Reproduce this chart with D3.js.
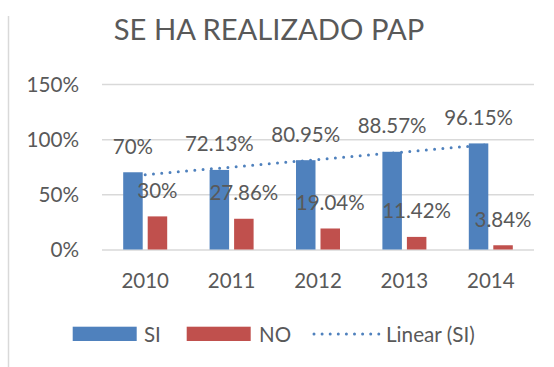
<!DOCTYPE html>
<html>
<head>
<meta charset="utf-8">
<script src="https://cdn.jsdelivr.net/npm/d3@7"></script>
<style>
  html, body { margin: 0; padding: 0; background: #fff; }
  svg text { font-family: Lato, "Open Sans", sans-serif; fill: #595959; }
</style>
</head>
<body>
<svg id="chart" width="554" height="367"></svg>
<script>
// Share of cases where a PAP was performed, by year
const years = ["2010", "2011", "2012", "2013", "2014"];
const siValues = [70, 72.13, 80.95, 88.57, 96.15];
const noValues = [30, 27.86, 19.04, 11.42, 3.84];
const yTicks = [0, 50, 100, 150];
const seriesNames = ["SI", "NO", "Linear (SI)"];
const chartTitle = "SE HA REALIZADO PAP";

const BLUE = "#4F81BD", RED = "#C0504D", GRID = "#d9d9d9";

const svg = d3.select("#chart");

// Chart frame edge on the left
svg.append("line")
  .attr("x1", 8.5).attr("x2", 8.5).attr("y1", 16).attr("y2", 367)
  .attr("stroke", GRID).attr("stroke-width", 1.5);

const plot = { left: 102, right: 534, top: 84, bottom: 249.5 };

const x = d3.scaleBand().domain(years).range([plot.left, plot.right]).paddingInner(0).paddingOuter(0);
const y = d3.scaleLinear().domain([0, 150]).range([plot.bottom, plot.top]);

const barW = 19.5, barGap = 5;
const xSub = d3.scaleOrdinal().domain(["SI", "NO"]).range([-barGap / 2 - barW, barGap / 2]);
const center = d => x(d) + x.bandwidth() / 2;

// Title
svg.append("text")
  .attr("x", 269).attr("y", 39.5)
  .attr("text-anchor", "middle")
  .style("font-size", "29.2px")
  .text(chartTitle);

// Gridlines + y-axis labels
const yAxis = d3.axisLeft(y).tickValues(yTicks).tickSize(-(plot.right - plot.left))
  .tickFormat(d => d + "%").tickPadding(23);
const gy = svg.append("g").attr("transform", `translate(${plot.left},0)`).call(yAxis);
gy.select(".domain").remove();
gy.selectAll(".tick line").attr("stroke", GRID).attr("stroke-width", 1.5);
gy.selectAll(".tick text").attr("fill", "#595959")
  .style("font-size", "20.7px").style("font-family", "Lato, sans-serif").attr("dy", "0.36em");

// x-axis labels
const xAxis = d3.axisBottom(x).tickSize(0).tickPadding(0);
const gx = svg.append("g").attr("transform", `translate(0,${plot.bottom})`).call(xAxis);
gx.select(".domain").remove();
gx.selectAll(".tick text").attr("fill", "#595959").attr("dy", null).attr("y", 38.5)
  .style("font-size", "20.5px").style("font-family", "Lato, sans-serif");

// Linear trendline of SI (least squares over category index)
const n = siValues.length;
const xi = d3.range(1, n + 1);
const mx = d3.mean(xi), my = d3.mean(siValues);
const slope = d3.sum(xi, (v, i) => (v - mx) * (siValues[i] - my)) / d3.sum(xi, v => (v - mx) ** 2);
const intercept = my - slope * mx;
const trend = years.map((yr, i) => [center(yr), y(intercept + slope * (i + 1))]);
svg.append("path")
  .attr("d", d3.line()([trend[0], trend[n - 1]]))
  .attr("fill", "none").attr("stroke", BLUE).attr("stroke-width", 3)
  .attr("stroke-linecap", "round").attr("stroke-dasharray", "0 8.3");

// Bars
const bars = [
  { key: "SI", values: siValues, color: BLUE },
  { key: "NO", values: noValues, color: RED }
];
bars.forEach(s => {
  svg.append("g").selectAll("rect").data(s.values).join("rect")
    .attr("x", (v, i) => center(years[i]) + xSub(s.key))
    .attr("width", barW)
    .attr("y", v => y(v))
    .attr("height", v => y(0) - y(v))
    .attr("fill", s.color);
});

// Data labels
bars.forEach(s => {
  svg.append("g").selectAll("text").data(s.values).join("text")
    .attr("x", (v, i) => center(years[i]) + xSub(s.key) + barW / 2)
    .attr("y", v => y(v) - 18.5)
    .attr("text-anchor", "middle")
    .style("font-size", "20.5px")
    .text(v => v + "%");
});

// Legend
const lg = svg.append("g");
lg.append("rect").attr("x", 72.7).attr("y", 326.7).attr("width", 64).attr("height", 14.3).attr("fill", BLUE);
lg.append("text").attr("x", 144).attr("y", 341.5).style("font-size", "20.5px").text(seriesNames[0]);
lg.append("rect").attr("x", 186.7).attr("y", 326.7).attr("width", 64).attr("height", 14.3).attr("fill", RED);
lg.append("text").attr("x", 259).attr("y", 341.5).style("font-size", "20.5px").text(seriesNames[1]);
lg.append("line").attr("x1", 314).attr("x2", 379).attr("y1", 334).attr("y2", 334)
  .attr("stroke", BLUE).attr("stroke-width", 3).attr("stroke-linecap", "round").attr("stroke-dasharray", "0 8.1");
lg.append("text").attr("x", 386).attr("y", 341.5).style("font-size", "20.7px").text(seriesNames[2]);
</script>
</body>
</html>
